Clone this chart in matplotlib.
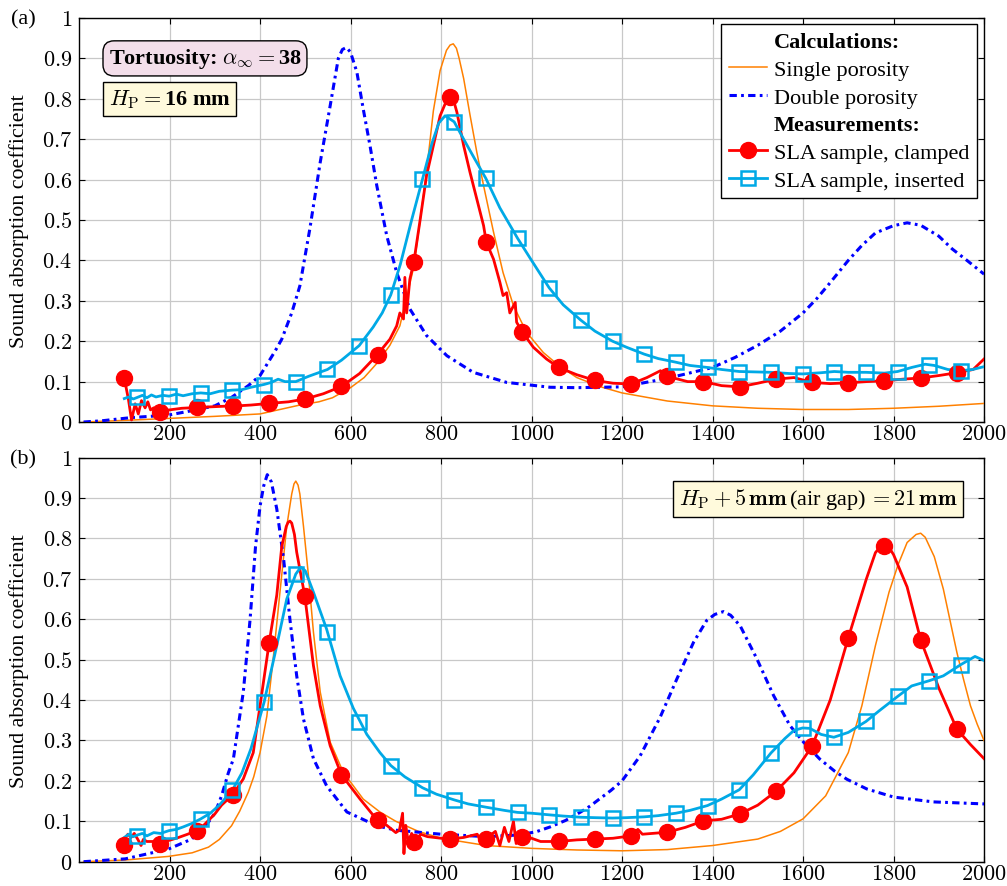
import matplotlib
matplotlib.use('Agg')
import matplotlib.pyplot as plt
from matplotlib.lines import Line2D

plt.rcParams['font.family'] = ['Liberation Serif', 'DejaVu Serif']
plt.rcParams['mathtext.fontset'] = 'cm'
plt.rcParams['font.size'] = 15

# ---------------- Panel (a) data ----------------
fa_single = [10, 100, 200, 300, 400, 488, 530, 560, 600, 630, 658, 687, 709, 739, 754, 768, 783,
             798, 812, 820, 827, 834, 840, 850, 864, 879, 894, 916, 937, 960, 989, 1026, 1060,
             1100, 1150, 1200, 1300, 1400, 1500, 1600, 1700, 1800, 1900, 2000]
va_single = [0.0, 0.004, 0.009, 0.014, 0.02, 0.042, 0.05, 0.06, 0.085, 0.11, 0.145, 0.19, 0.238,
             0.38, 0.5, 0.62, 0.77, 0.87, 0.92, 0.933, 0.936, 0.925, 0.9, 0.85, 0.76, 0.668,
             0.585, 0.47, 0.37, 0.288, 0.222, 0.172, 0.14, 0.11, 0.088, 0.072, 0.052, 0.04,
             0.034, 0.031, 0.031, 0.034, 0.039, 0.046]

fa_double = [10, 50, 116, 197, 249, 300, 337, 374, 400, 433, 448, 470, 488, 510, 533, 555, 573,
             582, 591, 600, 614, 628, 643, 658, 680, 702, 731, 768, 813, 871, 945, 1041, 1100,
             1200, 1300, 1400, 1450, 1500, 1550, 1600, 1630, 1660, 1700, 1730, 1760, 1800, 1830,
             1860, 1900, 1930, 1960, 2000]
va_double = [0.0, 0.003, 0.011, 0.017, 0.028, 0.04, 0.061, 0.09, 0.115, 0.175, 0.205, 0.27,
             0.337, 0.478, 0.643, 0.783, 0.9, 0.922, 0.927, 0.915, 0.866, 0.775, 0.684, 0.585,
             0.461, 0.37, 0.28, 0.214, 0.164, 0.123, 0.098, 0.086, 0.085, 0.087, 0.108, 0.135,
             0.16, 0.19, 0.225, 0.27, 0.305, 0.345, 0.4, 0.437, 0.468, 0.486, 0.493, 0.487, 0.46,
             0.428, 0.402, 0.366]

fa_clamp = [100, 109, 116, 124, 131, 138, 146, 152, 158, 165, 180, 200, 227, 260, 300, 340, 345,
            350, 380, 420, 463, 500, 540, 580, 620, 658, 687, 702, 709, 717, 720, 724, 731, 740,
            754, 768, 783, 798, 810, 820, 828, 835, 850, 864, 879, 894, 900, 916, 930, 937, 945,
            952, 964, 967, 980, 1004, 1033, 1060, 1100, 1140, 1180, 1220, 1255, 1285, 1300, 1345,
            1380, 1420, 1460, 1500, 1540, 1580, 1620, 1660, 1700, 1740, 1780, 1820, 1860, 1900,
            1940, 1976, 2000]
va_clamp = [0.108, 0.057, 0.005, 0.045, 0.02, 0.053, 0.035, 0.05, 0.03, 0.035, 0.028, 0.03,
            0.034, 0.036, 0.038, 0.04, 0.06, 0.04, 0.042, 0.046, 0.05, 0.057, 0.07, 0.088, 0.12,
            0.165, 0.205, 0.238, 0.27, 0.255, 0.358, 0.27, 0.353, 0.397, 0.502, 0.61, 0.684,
            0.758, 0.79, 0.804, 0.795, 0.767, 0.684, 0.618, 0.552, 0.486, 0.445, 0.403, 0.346,
            0.313, 0.32, 0.27, 0.296, 0.247, 0.222, 0.185, 0.156, 0.135, 0.117, 0.103, 0.096,
            0.094, 0.11, 0.127, 0.113, 0.1, 0.1, 0.09, 0.087, 0.096, 0.106, 0.11, 0.098, 0.095,
            0.097, 0.1, 0.102, 0.106, 0.109, 0.115, 0.122, 0.13, 0.156]
fa_clamp_mk = [100, 180, 260, 340, 420, 500, 580, 660, 740, 820, 900, 980, 1060, 1140, 1220,
               1300, 1380, 1460, 1540, 1620, 1700, 1780, 1860, 1940]
va_clamp_mk = [0.108, 0.026, 0.036, 0.04, 0.046, 0.057, 0.088, 0.165, 0.397, 0.804, 0.445,
               0.222, 0.135, 0.103, 0.094, 0.113, 0.1, 0.087, 0.106, 0.098, 0.097, 0.102, 0.109,
               0.122]

fa_ins = [100, 110, 120, 129, 140, 150, 160, 170, 185, 199, 215, 230, 250, 269, 290, 310, 339,
          360, 380, 409, 425, 440, 455, 479, 507, 549, 580, 619, 650, 670, 689, 710, 735, 759,
          780, 795, 809, 829, 850, 875, 899, 930, 969, 1000, 1039, 1070, 1109, 1140, 1179, 1210,
          1249, 1280, 1319, 1350, 1389, 1420, 1459, 1529, 1570, 1599, 1640, 1669, 1700, 1739,
          1780, 1809, 1840, 1870, 1890, 1920, 1949, 1975, 2000]
va_ins = [0.058, 0.062, 0.057, 0.061, 0.066, 0.06, 0.067, 0.062, 0.066, 0.064, 0.069, 0.065,
          0.07, 0.072, 0.07, 0.076, 0.079, 0.08, 0.086, 0.093, 0.098, 0.106, 0.1, 0.1, 0.113,
          0.13, 0.153, 0.189, 0.235, 0.27, 0.315, 0.39, 0.5, 0.601, 0.69, 0.74, 0.758, 0.743,
          0.7, 0.65, 0.603, 0.53, 0.455, 0.4, 0.332, 0.29, 0.252, 0.225, 0.2, 0.185, 0.168,
          0.157, 0.148, 0.14, 0.135, 0.13, 0.125, 0.123, 0.12, 0.119, 0.122, 0.125, 0.123,
          0.123, 0.121, 0.125, 0.135, 0.143, 0.14, 0.13, 0.127, 0.13, 0.137]
fa_ins_mk = [129, 199, 269, 339, 409, 479, 549, 619, 689, 759, 829, 899, 969, 1039, 1109, 1179,
             1249, 1319, 1389, 1459, 1529, 1599, 1669, 1739, 1809, 1879, 1949]
va_ins_mk = [0.061, 0.065, 0.071, 0.079, 0.092, 0.1, 0.131, 0.189, 0.315, 0.601, 0.743, 0.603,
             0.455, 0.332, 0.252, 0.2, 0.168, 0.148, 0.135, 0.125, 0.123, 0.119, 0.125, 0.123,
             0.125, 0.142, 0.127]

# ---------------- Panel (b) data ----------------
fb_single = [10, 100, 197, 250, 286, 310, 337, 355, 374, 386, 400, 415, 429, 444, 459, 470, 475,
             479, 484, 488, 496, 507, 518, 533, 555, 584, 628, 665, 700, 750, 800, 900, 1000,
             1100, 1200, 1300, 1400, 1500, 1550, 1600, 1650, 1700, 1730, 1760, 1790, 1810, 1830,
             1850, 1860, 1870, 1890, 1910, 1940, 1955, 1970, 1985, 2000]
vb_single = [0.0, 0.004, 0.013, 0.022, 0.036, 0.055, 0.089, 0.125, 0.172, 0.21, 0.27, 0.36,
             0.502, 0.667, 0.83, 0.91, 0.935, 0.942, 0.932, 0.91, 0.83, 0.708, 0.568, 0.42,
             0.296, 0.221, 0.155, 0.123, 0.1, 0.075, 0.058, 0.04, 0.033, 0.029, 0.027, 0.03,
             0.04, 0.056, 0.075, 0.106, 0.163, 0.27, 0.386, 0.535, 0.667, 0.735, 0.79, 0.81,
             0.813, 0.803, 0.755, 0.675, 0.518, 0.45, 0.386, 0.34, 0.30]

fb_double = [10, 102, 197, 249, 286, 300, 315, 330, 341, 363, 378, 390, 400, 408, 416, 425, 437,
             452, 466, 481, 496, 518, 547, 592, 658, 700, 800, 900, 970, 1010, 1041, 1075, 1107,
             1130, 1151, 1175, 1200, 1240, 1284, 1321, 1358, 1387, 1405, 1424, 1440, 1461, 1498,
             1535, 1571, 1601, 1637, 1670, 1697, 1741, 1800, 1888, 2000]
vb_double = [0.0, 0.007, 0.031, 0.056, 0.098, 0.12, 0.163, 0.22, 0.254, 0.42, 0.6, 0.78, 0.88,
             0.93, 0.958, 0.94, 0.873, 0.75, 0.6, 0.46, 0.353, 0.255, 0.188, 0.123, 0.089,
             0.078, 0.068, 0.062, 0.066, 0.074, 0.086, 0.102, 0.122, 0.138, 0.156, 0.176, 0.2,
             0.262, 0.357, 0.452, 0.543, 0.597, 0.612, 0.619, 0.61, 0.584, 0.502, 0.411, 0.337,
             0.296, 0.254, 0.224, 0.204, 0.18, 0.16, 0.148, 0.143]

fb_clamp = [100, 108, 115, 122, 130, 137, 142, 150, 165, 180, 200, 220, 240, 260, 271, 300, 315,
            340, 363, 385, 400, 420, 437, 448, 458, 462, 466, 470, 476, 481, 499, 518, 533, 555,
            580, 621, 658, 680, 700, 708, 715, 718, 722, 728, 735, 745, 755, 770, 800, 820, 850,
            880, 890, 900, 920, 930, 940, 950, 960, 966, 975, 980, 1000, 1020, 1060, 1100, 1140,
            1180, 1220, 1235, 1245, 1300, 1340, 1380, 1420, 1460, 1500, 1540, 1580, 1620, 1660,
            1700, 1740, 1760, 1775, 1790, 1800, 1830, 1860, 1900, 1940, 1970, 2000]
vb_clamp = [0.055, 0.068, 0.06, 0.07, 0.055, 0.04, 0.055, 0.05, 0.05, 0.048, 0.053, 0.06, 0.068,
            0.077, 0.085, 0.118, 0.14, 0.166, 0.205, 0.27, 0.386, 0.541, 0.66, 0.78, 0.83, 0.84,
            0.843, 0.838, 0.81, 0.766, 0.657, 0.485, 0.386, 0.287, 0.215, 0.155, 0.104, 0.09,
            0.072, 0.078, 0.12, 0.02, 0.09, 0.045, 0.07, 0.05, 0.068, 0.062, 0.058, 0.056, 0.06,
            0.068, 0.045, 0.058, 0.075, 0.04, 0.085, 0.05, 0.1, 0.045, 0.065, 0.06, 0.058, 0.05,
            0.05, 0.054, 0.056, 0.058, 0.064, 0.08, 0.068, 0.073, 0.085, 0.101, 0.105, 0.118,
            0.14, 0.174, 0.22, 0.286, 0.4, 0.554, 0.7, 0.765, 0.785, 0.778, 0.76, 0.68, 0.549,
            0.43, 0.328, 0.29, 0.255]
fb_clamp_mk = fa_clamp_mk
vb_clamp_mk = [0.042, 0.045, 0.077, 0.166, 0.541, 0.657, 0.215, 0.104, 0.048, 0.056, 0.056,
               0.06, 0.05, 0.056, 0.064, 0.073, 0.101, 0.118, 0.174, 0.286, 0.554, 0.782, 0.549,
               0.328]

fb_ins = [100, 110, 120, 129, 140, 150, 165, 180, 199, 215, 230, 250, 269, 290, 310, 339, 360,
          380, 409, 437, 459, 479, 490, 500, 518, 547, 577, 606, 636, 665, 689, 720, 759, 790,
          829, 860, 899, 940, 969, 1000, 1039, 1070, 1109, 1140, 1179, 1210, 1249, 1280, 1319,
          1350, 1389, 1420, 1459, 1490, 1529, 1560, 1580, 1599, 1615, 1640, 1668, 1700, 1739,
          1770, 1809, 1840, 1879, 1910, 1949, 1980, 2000]
vb_ins = [0.06, 0.068, 0.062, 0.066, 0.07, 0.064, 0.072, 0.07, 0.077, 0.08, 0.086, 0.095, 0.106,
          0.12, 0.14, 0.177, 0.22, 0.28, 0.395, 0.535, 0.65, 0.712, 0.729, 0.72, 0.667, 0.576,
          0.46, 0.38, 0.315, 0.27, 0.238, 0.21, 0.183, 0.167, 0.153, 0.143, 0.135, 0.127, 0.122,
          0.12, 0.116, 0.113, 0.11, 0.109, 0.108, 0.109, 0.111, 0.114, 0.12, 0.127, 0.139,
          0.155, 0.178, 0.215, 0.269, 0.305, 0.325, 0.331, 0.33, 0.315, 0.308, 0.32, 0.347,
          0.375, 0.409, 0.435, 0.448, 0.46, 0.488, 0.508, 0.498]
fb_ins_mk = fa_ins_mk
vb_ins_mk = [0.064, 0.077, 0.106, 0.177, 0.395, 0.712, 0.568, 0.345, 0.238, 0.183, 0.153, 0.135,
             0.122, 0.116, 0.11, 0.108, 0.111, 0.12, 0.139, 0.178, 0.269, 0.331, 0.308, 0.347,
             0.409, 0.448, 0.488]

x_ticks = [200, 400, 600, 800, 1000, 1200, 1400, 1600, 1800, 2000]
y_ticks = [0, 0.1, 0.2, 0.3, 0.4, 0.5, 0.6, 0.7, 0.8, 0.9, 1]
y_tick_labels = ['0', '0.1', '0.2', '0.3', '0.4', '0.5', '0.6', '0.7', '0.8', '0.9', '1']

# ---------------- styles ----------------
C_OR = '#FF8000'
C_DB = '#0000FF'
C_RD = '#FF0000'
C_CY = '#00A9E6'
DASHDOT = (0, (2.4, 1.4, 0.9, 1.4))
FS = 16

fig = plt.figure(figsize=(10.07, 8.87), dpi=100)
ax_a = fig.add_axes([0.0785, 0.5231, 0.8987, 0.4555])
ax_b = fig.add_axes([0.0785, 0.0274, 0.8987, 0.4555])


def style(ax):
    ax.set_xlim(0, 2000)
    ax.set_ylim(0, 1)
    ax.set_xticks(x_ticks)
    ax.set_xticklabels(['$%d$' % t for t in x_ticks])
    ax.set_yticks(y_ticks)
    ax.set_yticklabels(['$%s$' % t for t in y_tick_labels])
    ax.grid(True, color='#c8c8c8', lw=0.9)
    ax.set_axisbelow(True)
    ax.tick_params(direction='in', top=True, right=True, length=4, width=0.8,
                   labelsize=FS)
    ax.tick_params(axis='x', pad=2.5)
    ax.tick_params(axis='y', pad=5)
    for s in ax.spines.values():
        s.set_linewidth(1.0)


def draw(ax, fs, vs, fd, vd, fc, vc, fcm, vcm, fi, vi, fim, vim):
    ax.plot(fs, vs, color=C_OR, lw=1.1, zorder=3)
    ax.plot(fd, vd, color=C_DB, lw=2.2, ls=DASHDOT, zorder=3)
    ax.plot(fc, vc, color=C_RD, lw=2.0, zorder=4)
    ax.plot(fcm, vcm, ls='none', marker='o', ms=11.5, color=C_RD, zorder=5)
    ax.plot(fi, vi, color=C_CY, lw=2.0, zorder=4)
    ax.plot(fim, vim, ls='none', marker='s', ms=10.5, mfc='none', mec=C_CY, mew=1.8, zorder=6)


style(ax_a)
style(ax_b)
draw(ax_a, fa_single, va_single, fa_double, va_double, fa_clamp, va_clamp, fa_clamp_mk,
     va_clamp_mk, fa_ins, va_ins, fa_ins_mk, va_ins_mk)
draw(ax_b, fb_single, vb_single, fb_double, vb_double, fb_clamp, vb_clamp, fb_clamp_mk,
     vb_clamp_mk, fb_ins, vb_ins, fb_ins_mk, vb_ins_mk)

# legend
handles = [Line2D([], [], ls='none'),
           Line2D([], [], color=C_OR, lw=1.1),
           Line2D([], [], color=C_DB, lw=2.2, ls=DASHDOT),
           Line2D([], [], ls='none'),
           Line2D([], [], color=C_RD, lw=2.0, marker='o', ms=11.5),
           Line2D([], [], color=C_CY, lw=2.0, marker='s', ms=10.5, mfc='none', mec=C_CY,
                  mew=1.8)]
labels = ['Calculations:', 'Single porosity', 'Double porosity', 'Measurements:',
          'SLA sample, clamped', 'SLA sample, inserted']
leg = ax_a.legend(handles, labels, loc='upper right', bbox_to_anchor=(0.9923, 0.985),
                  borderaxespad=0, fancybox=False, edgecolor='black', framealpha=1,
                  fontsize=FS, handlelength=1.7, handletextpad=0.32, labelspacing=0.32,
                  borderpad=0.35, numpoints=1)
leg.get_frame().set_linewidth(1.0)
for t in leg.get_texts():
    if t.get_text().endswith(':'):
        t.set_fontweight('bold')

# text boxes
ax_a.text(0.0326, 0.900, r'Tortuosity: $\alpha_\infty = $38', transform=ax_a.transAxes,
          ha='left', va='center', fontsize=FS, fontweight='bold', zorder=10,
          bbox=dict(boxstyle='round,pad=0.25,rounding_size=0.5', fc='#F3DEEA', ec='black', lw=1.0))
ax_a.text(0.0326, 0.7995, r'$H_\mathrm{P} = $16 mm', transform=ax_a.transAxes,
          ha='left', va='center', fontsize=FS, fontweight='bold', zorder=10,
          bbox=dict(boxstyle='square,pad=0.25', fc='#FFFADC', ec='black', lw=1.0))
ax_b.text(0.817, 0.898, r'$H_\mathrm{P} + \mathbf{5\,mm}\,$(air gap)$\,= \mathbf{21\,mm}$',
          transform=ax_b.transAxes, ha='center', va='center', fontsize=FS, zorder=10,
          bbox=dict(boxstyle='square,pad=0.25', fc='#FFFADC', ec='black', lw=1.0))

# axis labels and panel tags
fig.text(19 / 1007, 1 - 221 / 887, 'Sound absorption coefficient', rotation=90,
         ha='center', va='center', fontsize=15.8)
fig.text(19 / 1007, 1 - 661 / 887, 'Sound absorption coefficient', rotation=90,
         ha='center', va='center', fontsize=15.8)
fig.text(23 / 1007, 1 - 20 / 887, '(a)', ha='center', va='center', fontsize=FS)
fig.text(23 / 1007, 1 - 460 / 887, '(b)', ha='center', va='center', fontsize=FS)

fig.savefig('out.png', dpi=100)
